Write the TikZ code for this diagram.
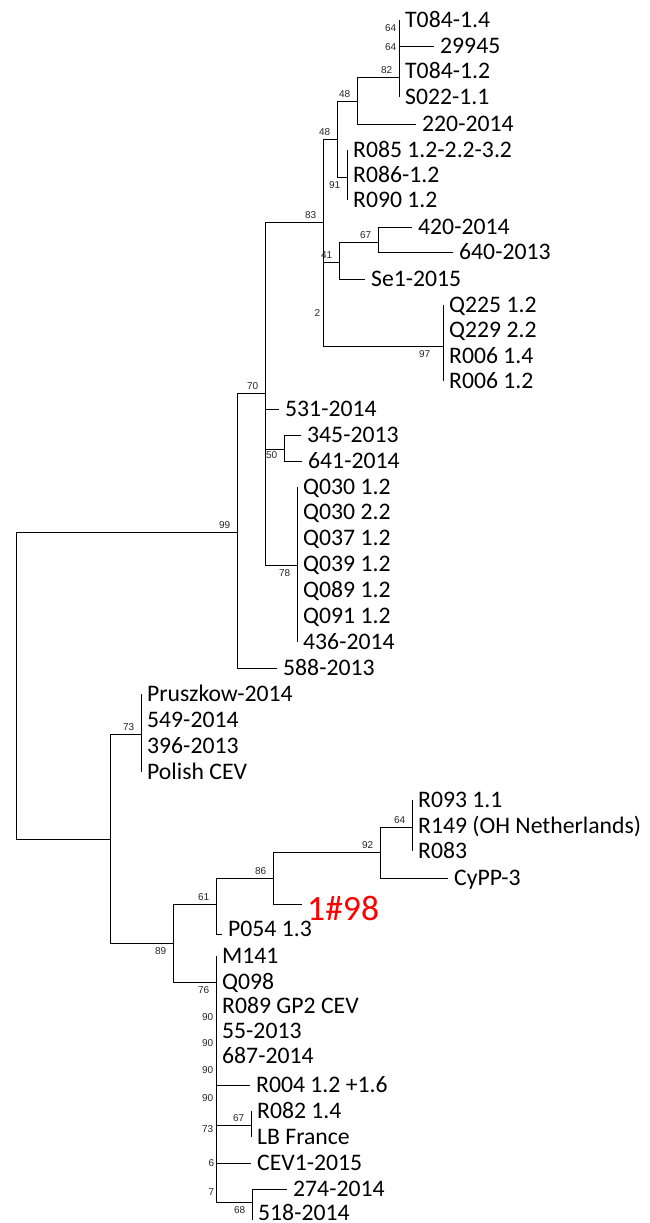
\documentclass[tikz,border=0pt]{standalone}
\usepackage{fontspec}
\setmainfont{Carlito}
\newfontfamily\bootfont{Liberation Sans}
\usetikzlibrary{positioning}

\tikzset{
  branch/.style={line width=0.9pt, black},
  leaf/.style={anchor=west, inner xsep=6pt, inner ysep=0pt,
    text height=15.2pt, text depth=0pt,
    font=\fontsize{23.7}{26}\selectfont},
  boot/.style={inner sep=0.5pt, text=black!85,
    font=\bootfont\fontsize{10}{10}\selectfont},
  bootup/.style={boot, anchor=south east, xshift=-6pt, yshift=3pt},
  bootdown/.style={boot, anchor=north east, xshift=-6pt, yshift=-4pt},
  bootside/.style={boot, anchor=east, xshift=-2pt},
}

\begin{document}
\begin{tikzpicture}[x=1pt, y=-1pt]
\useasboundingbox (0,0) rectangle (649,1223);

% internal nodes (x of the vertical, y of the branch to the parent)
\coordinate (root) at (16,685);
\coordinate (n99) at (237,532);
\coordinate (n70) at (265,393);
\coordinate (n83) at (323,222);
\coordinate (n48b) at (337,139);
\coordinate (n48a) at (357,101);
\coordinate (n82) at (399,77);
\coordinate (n91) at (347,177);
\coordinate (n2) at (323,320);
\coordinate (n41) at (339,262);
\coordinate (n67a) at (378,242);
\coordinate (n97) at (443,346);
\coordinate (n50) at (284,449);
\coordinate (n78) at (297,565);
\coordinate (nbot) at (110,839);
\coordinate (n73) at (141,734);
\coordinate (n89) at (173,943);
\coordinate (n61) at (216,904);
\coordinate (n86) at (273,878);
\coordinate (n92) at (380,852);
\coordinate (n64) at (412,827);
\coordinate (n76) at (216,982);
\coordinate (n67b) at (251,1125);
\coordinate (n68) at (252,1202);

% leaves
\node[leaf] (tT084a) at (399,20) {T084-1.4};
\node[leaf] (t29945) at (434,46) {29945};
\node[leaf] (tT084b) at (399,71) {T084-1.2};
\node[leaf] (tS022) at (399,97) {S022-1.1};
\node[leaf] (t220) at (416,124) {220-2014};
\node[leaf] (tR085) at (347,150) {R085 1.2-2.2-3.2};
\node[leaf] (tR086) at (347,175) {R086-1.2};
\node[leaf] (tR090) at (347,200) {R090 1.2};
\node[leaf] (t420) at (412,227) {420-2014};
\node[leaf] (t640) at (453,252) {640-2013};
\node[leaf] (tSe1) at (365,279) {Se1-2015};
\node[leaf] (tQ225) at (443,305) {Q225 1.2};
\node[leaf] (tQ229) at (443,330) {Q229 2.2};
\node[leaf] (tR006a) at (443,356) {R006 1.4};
\node[leaf] (tR006b) at (443,381) {R006 1.2};
\node[leaf] (t531) at (279,409) {531-2014};
\node[leaf] (t345) at (301,435) {345-2013};
\node[leaf] (t641) at (302,461) {641-2014};
\node[leaf] (tQ030a) at (297,487) {Q030 1.2};
\node[leaf] (tQ030b) at (297,512) {Q030 2.2};
\node[leaf] (tQ037) at (297,538) {Q037 1.2};
\node[leaf] (tQ039) at (297,564) {Q039 1.2};
\node[leaf] (tQ089) at (297,590) {Q089 1.2};
\node[leaf] (tQ091) at (297,616) {Q091 1.2};
\node[leaf] (t436) at (297,642) {436-2014};
\node[leaf] (t588) at (277,668) {588-2013};
\node[leaf] (tPrus) at (141,694) {Pruszkow-2014};
\node[leaf] (t549) at (141,720) {549-2014};
\node[leaf] (t396) at (141,746) {396-2013};
\node[leaf] (tPol) at (141,772) {Polish CEV};
\node[leaf] (tR093) at (412,800) {R093 1.1};
\node[leaf] (tR149) at (412,826) {R149 (OH Netherlands)};
\node[leaf] (tR083) at (412,851) {R083};
\node[leaf] (tCyPP) at (448,878) {CyPP-3};
\coordinate (t198) at (302,904);
\node[leaf, inner xsep=5pt, text=red, text height=22.9pt,
  font=\fontsize{35.6}{40}\selectfont] (l198) at (302,909) {1\#98};
\coordinate (tP054) at (222,934);
\node[leaf] (lP054) at (222,929) {P054 1.3};
\node[leaf] (tM141) at (216,956) {M141};
\node[leaf] (tQ098) at (216,982) {Q098};
\node[leaf] (tR089) at (216,1006) {R089 GP2 CEV};
\node[leaf] (t55) at (216,1031) {55-2013};
\node[leaf] (t687) at (216,1056) {687-2014};
\node[leaf] (tR004) at (250,1085) {R004 1.2 +1.6};
\node[leaf] (tR082) at (251,1111) {R082 1.4};
\node[leaf] (tLB) at (251,1137) {LB France};
\node[leaf] (tCEV1) at (251,1163) {CEV1-2015};
\node[leaf] (t274) at (287,1189) {274-2014};
\node[leaf] (t518) at (252,1213) {518-2014};
\coordinate (e518) at (252,1220);

% branches
\draw[branch] (root) |- (n99) (root) |- (nbot);
\draw[branch] (n99) |- (n70) (n99) |- (t588.west);
\draw[branch] (n70) |- (n83) (n70) |- (t531.west) (n70) |- (n50) (n70) |- (n78);
\draw[branch] (n83) |- (n48b) (n83) |- (n2);
\draw[branch] (n48b) |- (n48a) (n48b) |- (n91);
\draw[branch] (n48a) |- (n82) (n48a) |- (t220.west);
\draw[branch] (n82) |- (tT084a.west) (n82) |- (t29945.west)
  (n82) |- (tT084b.west) (n82) |- (tS022.west);
\draw[branch] (n91) |- (tR085.west) (n91) |- (tR086.west) (n91) |- (tR090.west);
\draw[branch] (n2) |- (n41) (n2) |- (n97);
\draw[branch] (n41) |- (n67a) (n41) |- (tSe1.west);
\draw[branch] (n67a) |- (t420.west) (n67a) |- (t640.west);
\draw[branch] (n97) |- (tQ225.west) (n97) |- (tR006b.west);
\draw[branch] (n50) |- (t345.west) (n50) |- (t641.west);
\draw[branch] (n78) |- (tQ030a.west) (n78) |- (t436.west);
\draw[branch] (nbot) |- (n73) (nbot) |- (n89);
\draw[branch] (n73) |- (tPrus.west) (n73) |- (tPol.west);
\draw[branch] (n89) |- (n61) (n89) |- (n76);
\draw[branch] (n61) |- (n86) (n61) |- (tP054);
\draw[branch] (n86) |- (n92) (n86) |- (t198);
\draw[branch] (n92) |- (n64) (n92) |- (tCyPP.west);
\draw[branch] (n64) |- (tR093.west) (n64) |- (tR083.west);
\draw[branch] (n76) |- (tM141.west) (n76) |- (n68);
\draw[branch] (n76) |- (tR004.west) (n76) |- (n67b) (n76) |- (tCEV1.west);
\draw[branch] (n67b) |- (tR082.west) (n67b) |- (tLB.west);
\draw[branch] (n68) |- (t274.west) (n68) |- (e518);

% bootstrap values
\node[bootup] (b82) at (n82) {82};
\node[bootup] (b48a) at (n48a) {48};
\node[bootup] (b48b) at (n48b) {48};
\node[bootup] (b83) at (n83) {83};
\node[bootup] (b41) at (n41) {41};
\node[bootup] (b67a) at (n67a) {67};
\node[bootup] (b70) at (n70) {70};
\node[bootup] (b99) at (n99) {99};
\node[bootup] (b73) at (n73) {73};
\node[bootup] (b61) at (n61) {61};
\node[bootup] (b86) at (n86) {86};
\node[bootup] (b92) at (n92) {92};
\node[bootup] (b64) at (n64) {64};
\node[bootup] (b67b) at (n67b) {67};
\node[bootdown] (b91) at (n91) {91};
\node[bootdown, xshift=-6pt] (b97) at (n97) {97};
\node[bootdown, yshift=2pt] (b50) at (n50) {50};
\node[bootdown] (b78) at (n78) {78};
\node[bootdown] (b89) at (n89) {89};
\node[bootdown] (b76) at (n76) {76};
\node[bootdown] (b68) at (n68) {68};
\node[bootside] (b64x) at (399,28) {64};
\node[bootside] (b64y) at (399,47) {64};
\node[bootside] (b2) at (323,313) {2};
\node[bootside] (b90a) at (216,1017) {90};
\node[bootside] (b90b) at (216,1043) {90};
\node[bootside] (b90c) at (216,1070) {90};
\node[bootside] (b90d) at (216,1098) {90};
\node[bootside] (b73x) at (216,1129) {73};
\node[bootside] (b6) at (217,1163) {6};
\node[bootside] (b7) at (217,1192) {7};

\end{tikzpicture}
\end{document}
